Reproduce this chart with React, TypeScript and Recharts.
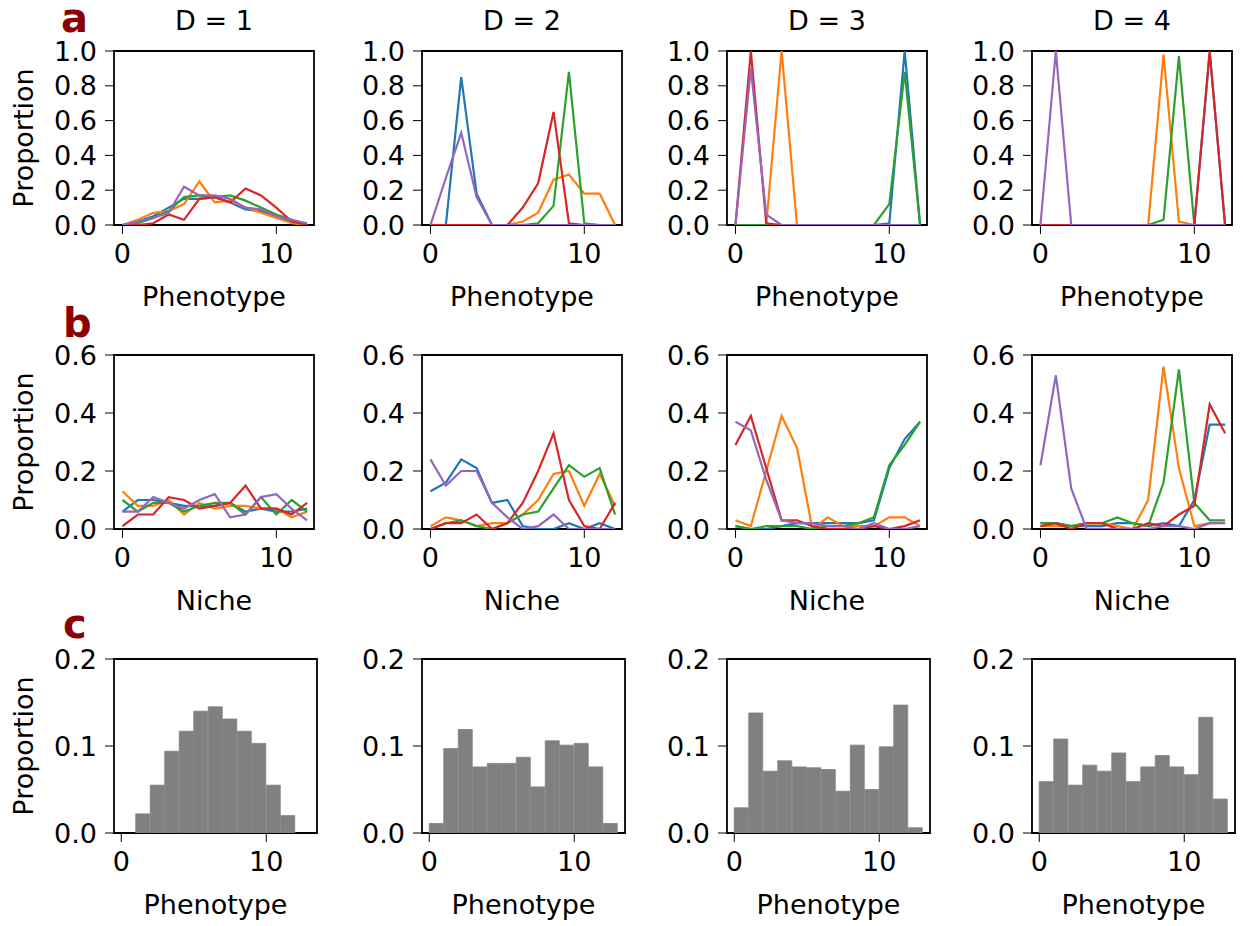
import React from 'react';
import { Bar, BarChart, Line, LineChart, ReferenceArea, XAxis, YAxis } from 'recharts';

// phenotype / niche index on the x axis
const phenotypes = [0, 1, 2, 3, 4, 5, 6, 7, 8, 9, 10, 11, 12];
const niches = [0, 1, 2, 3, 4, 5, 6, 7, 8, 9, 10, 11, 12];
// left edge of each histogram bin (width 1)
const binStarts = [0, 1, 2, 3, 4, 5, 6, 7, 8, 9, 10, 11, 12];

const titles = ['D = 1', 'D = 2', 'D = 3', 'D = 4'];

// each panel: five runs, in order blue, orange, green, red, purple
const phenotypeD1 = [
    [0, 0.02, 0.05, 0.10, 0.15, 0.15, 0.16, 0.13, 0.09, 0.08, 0.05, 0.02, 0],
    [0, 0.03, 0.07, 0.08, 0.12, 0.25, 0.13, 0.14, 0.10, 0.07, 0.04, 0.01, 0],
    [0, 0.01, 0.04, 0.08, 0.16, 0.17, 0.16, 0.17, 0.14, 0.10, 0.06, 0.03, 0],
    [0, 0, 0.01, 0.06, 0.03, 0.15, 0.16, 0.13, 0.21, 0.17, 0.10, 0.02, 0],
    [0, 0.02, 0.04, 0.07, 0.22, 0.17, 0.17, 0.15, 0.10, 0.09, 0.05, 0.03, 0.01],
];
const phenotypeD2 = [
    [0, 0, 0.85, 0.18, 0, 0, 0, 0, 0, 0, 0, 0, 0],
    [0, 0, 0, 0, 0, 0, 0.02, 0.07, 0.26, 0.29, 0.18, 0.18, 0],
    [0, 0, 0, 0, 0, 0, 0, 0.01, 0.11, 0.88, 0.01, 0, 0],
    [0, 0, 0, 0, 0, 0, 0.10, 0.24, 0.65, 0.01, 0, 0, 0],
    [0, 0.27, 0.53, 0.16, 0, 0, 0, 0, 0, 0, 0, 0, 0],
];
const phenotypeD3 = [
    [0, 0, 0, 0, 0, 0, 0, 0, 0, 0, 0.01, 1.0, 0],
    [0, 0, 0, 1.0, 0, 0, 0, 0, 0, 0, 0, 0, 0],
    [0, 0, 0, 0, 0, 0, 0, 0, 0, 0, 0.12, 0.88, 0],
    [0, 1.0, 0.01, 0, 0, 0, 0, 0, 0, 0, 0, 0, 0],
    [0, 0.9, 0.06, 0, 0, 0, 0, 0, 0, 0, 0, 0, 0],
];
const phenotypeD4 = [
    [0, 0, 0, 0, 0, 0, 0, 0, 0, 0, 0, 0.99, 0],
    [0, 0, 0, 0, 0, 0, 0, 0, 0.98, 0.02, 0, 0, 0],
    [0, 0, 0, 0, 0, 0, 0, 0, 0.03, 0.97, 0, 0, 0],
    [0, 0, 0, 0, 0, 0, 0, 0, 0, 0, 0, 1.0, 0],
    [0, 1.0, 0, 0, 0, 0, 0, 0, 0, 0, 0, 0, 0],
];

const nicheD1 = [
    [0.06, 0.10, 0.10, 0.09, 0.08, 0.08, 0.08, 0.09, 0.06, 0.07, 0.06, 0.06, 0.07],
    [0.13, 0.08, 0.08, 0.10, 0.05, 0.09, 0.07, 0.08, 0.08, 0.07, 0.07, 0.04, 0.06],
    [0.10, 0.06, 0.09, 0.09, 0.06, 0.08, 0.09, 0.09, 0.05, 0.11, 0.05, 0.10, 0.06],
    [0.01, 0.05, 0.05, 0.11, 0.10, 0.07, 0.08, 0.09, 0.15, 0.07, 0.07, 0.05, 0.09],
    [0.06, 0.06, 0.11, 0.09, 0.07, 0.10, 0.12, 0.04, 0.05, 0.11, 0.12, 0.07, 0.03],
];
const nicheD2 = [
    [0.13, 0.16, 0.24, 0.21, 0.09, 0.10, 0.01, 0, 0, 0.02, 0, 0.02, 0],
    [0.01, 0.04, 0.03, 0.01, 0.02, 0.02, 0.05, 0.10, 0.19, 0.20, 0.08, 0.19, 0.08],
    [0, 0.02, 0.03, 0.01, 0, 0.02, 0.05, 0.06, 0.14, 0.22, 0.18, 0.21, 0.05],
    [0, 0.02, 0.02, 0.05, 0, 0.02, 0.09, 0.20, 0.33, 0.10, 0.01, 0, 0.09],
    [0.24, 0.15, 0.20, 0.20, 0.09, 0.04, 0, 0.01, 0.05, 0, 0, 0, 0],
];
const nicheD3 = [
    [0.01, 0, 0, 0.01, 0.02, 0.02, 0.02, 0.02, 0.02, 0.03, 0.21, 0.31, 0.37],
    [0.03, 0.01, 0.20, 0.39, 0.28, 0, 0.04, 0.01, 0.01, 0.01, 0.04, 0.04, 0.01],
    [0.01, 0, 0.01, 0.01, 0.01, 0, 0.01, 0.01, 0.02, 0.04, 0.22, 0.29, 0.37],
    [0.29, 0.39, 0.21, 0.03, 0.03, 0.01, 0, 0, 0, 0.01, 0, 0.01, 0.03],
    [0.37, 0.34, 0.17, 0.03, 0.02, 0.02, 0.01, 0.01, 0, 0.02, 0, 0, 0.01],
];
const nicheD4 = [
    [0.02, 0.02, 0.01, 0.01, 0.01, 0.02, 0.02, 0.01, 0.02, 0.01, 0.10, 0.36, 0.36],
    [0.01, 0.01, 0.01, 0.02, 0.02, 0.01, 0, 0.10, 0.56, 0.21, 0.01, 0.02, 0.02],
    [0.02, 0.02, 0.01, 0.02, 0.02, 0.04, 0.02, 0.01, 0.16, 0.55, 0.09, 0.03, 0.03],
    [0.01, 0.02, 0, 0.02, 0.02, 0, 0, 0.02, 0.01, 0.05, 0.08, 0.43, 0.33],
    [0.22, 0.53, 0.14, 0, 0, 0, 0, 0, 0.01, 0.01, 0, 0.02, 0.02],
];

// pooled phenotype distribution per D
const histD1 = [0, 0.022, 0.055, 0.094, 0.117, 0.140, 0.145, 0.131, 0.117, 0.103, 0.055, 0.020, 0];
const histD2 = [0.011, 0.097, 0.119, 0.076, 0.080, 0.080, 0.087, 0.053, 0.106, 0.101, 0.103, 0.076, 0.011];
const histD3 = [0.029, 0.138, 0.071, 0.083, 0.076, 0.075, 0.073, 0.048, 0.101, 0.050, 0.099, 0.147, 0.006];
const histD4 = [0.059, 0.108, 0.055, 0.078, 0.071, 0.092, 0.059, 0.076, 0.089, 0.076, 0.067, 0.133, 0.039];

const lineColors = ['#1f77b4', '#ff7f0e', '#2ca02c', '#d62728', '#9467bd'];

const FONT = 'DejaVu Sans';
const FS = 27;
const AXIS_W = 110;
const PLOT_H = 174;
const XAXIS_H = 81;
const PAD_TOP = 20;
const PAD_RIGHT = 8;
const PAD_BOTTOM = 14;

const colLeft = [114, 422, 727, 1032];
const rowTop = [51, 355, 659];

const tickStyle = { fill: '#000', fontSize: FS, fontFamily: FONT };

function yLabelProps(show: boolean) {
    if (!show) return undefined;
    return {
        value: 'Proportion',
        angle: -90,
        position: 'insideLeft' as const,
        offset: 19,
        fill: '#000',
        fontSize: FS,
        style: { textAnchor: 'middle' },
    };
}

function LinePanel({ xs, series, xLabel, yMax, yTicks, left, top, showYLabel }: {
    xs: number[]; series: number[][]; xLabel: string; yMax: number; yTicks: number[];
    left: number; top: number; showYLabel: boolean;
}) {
    const rows = xs.map((x, i) => {
        const row: Record<string, number> = { x };
        series.forEach((s, k) => { row[`s${k}`] = s[i]; });
        return row;
    });
    const xDomain: [number, number] = [-0.55, 12.45];
    return (
        <div style={{ position: 'absolute', left: left - AXIS_W, top: top - PAD_TOP }}>
            <LineChart
                width={AXIS_W + 200 + PAD_RIGHT}
                height={PAD_TOP + PLOT_H + XAXIS_H + PAD_BOTTOM}
                data={rows}
                margin={{ top: PAD_TOP, right: PAD_RIGHT, bottom: PAD_BOTTOM, left: 0 }}
            >
                <XAxis
                    type="number"
                    dataKey="x"
                    domain={xDomain}
                    allowDataOverflow
                    ticks={[0, 10]}
                    interval={0}
                    axisLine={false}
                    tickSize={9}
                    tickMargin={10}
                    stroke="#000"
                    tick={tickStyle}
                    height={XAXIS_H}
                    label={{ value: xLabel, position: 'insideBottom', offset: 0, fill: '#000', fontSize: FS }}
                />
                <YAxis
                    type="number"
                    domain={[0, yMax]}
                    allowDataOverflow
                    ticks={yTicks}
                    interval={0}
                    tickFormatter={(v: number) => v.toFixed(1)}
                    axisLine={false}
                    tickSize={9}
                    tickMargin={8}
                    stroke="#000"
                    tick={tickStyle}
                    width={AXIS_W}
                    label={yLabelProps(showYLabel)}
                />
                {series.map((_, k) => (
                    <Line
                        key={k}
                        type="linear"
                        dataKey={`s${k}`}
                        stroke={lineColors[k]}
                        strokeWidth={2.2}
                        dot={false}
                        activeDot={false}
                        isAnimationActive={false}
                    />
                ))}
                <ReferenceArea
                    x1={xDomain[0]}
                    x2={xDomain[1]}
                    y1={0}
                    y2={yMax}
                    fill="none"
                    stroke="#000"
                    strokeWidth={1.8}
                    ifOverflow="visible"
                />
            </LineChart>
        </div>
    );
}

function HistPanel({ values, left, top, showYLabel }: {
    values: number[]; left: number; top: number; showYLabel: boolean;
}) {
    const rows = binStarts.map((b, i) => ({ x: b + 0.5, p: values[i] }));
    const xDomain: [number, number] = [-0.5, 13.5];
    return (
        <div style={{ position: 'absolute', left: left - AXIS_W, top: top - PAD_TOP }}>
            <BarChart
                width={AXIS_W + 203 + PAD_RIGHT}
                height={PAD_TOP + PLOT_H + XAXIS_H + PAD_BOTTOM}
                data={rows}
                barCategoryGap={0}
                barGap={0}
                margin={{ top: PAD_TOP, right: PAD_RIGHT, bottom: PAD_BOTTOM, left: 0 }}
            >
                <XAxis
                    type="number"
                    dataKey="x"
                    domain={xDomain}
                    allowDataOverflow
                    ticks={[0, 10]}
                    interval={0}
                    axisLine={false}
                    tickSize={9}
                    tickMargin={10}
                    stroke="#000"
                    tick={tickStyle}
                    height={XAXIS_H}
                    label={{ value: 'Phenotype', position: 'insideBottom', offset: 0, fill: '#000', fontSize: FS }}
                />
                <YAxis
                    type="number"
                    domain={[0, 0.2]}
                    allowDataOverflow
                    ticks={[0, 0.1, 0.2]}
                    interval={0}
                    tickFormatter={(v: number) => v.toFixed(1)}
                    axisLine={false}
                    tickSize={9}
                    tickMargin={8}
                    stroke="#000"
                    tick={tickStyle}
                    width={AXIS_W}
                    label={yLabelProps(showYLabel)}
                />
                <Bar dataKey="p" fill="#808080" stroke="#808080" strokeWidth={0.8} isAnimationActive={false} />
                <ReferenceArea
                    x1={xDomain[0]}
                    x2={xDomain[1]}
                    y1={0}
                    y2={0.2}
                    fill="none"
                    stroke="#000"
                    strokeWidth={1.8}
                    ifOverflow="visible"
                />
            </BarChart>
        </div>
    );
}

const phenotypePanels = [phenotypeD1, phenotypeD2, phenotypeD3, phenotypeD4];
const nichePanels = [nicheD1, nicheD2, nicheD3, nicheD4];
const histPanels = [histD1, histD2, histD3, histD4];

export default function App() {
    return (
        <div style={{ position: 'absolute', left: 0, top: 0, width: 1243, height: 926, background: '#fff', fontFamily: FONT }}>
            {phenotypePanels.map((series, c) => (
                <LinePanel
                    key={`a${c}`}
                    xs={phenotypes}
                    series={series}
                    xLabel="Phenotype"
                    yMax={1}
                    yTicks={[0, 0.2, 0.4, 0.6, 0.8, 1.0]}
                    left={colLeft[c]}
                    top={rowTop[0]}
                    showYLabel={c === 0}
                />
            ))}
            {nichePanels.map((series, c) => (
                <LinePanel
                    key={`b${c}`}
                    xs={niches}
                    series={series}
                    xLabel="Niche"
                    yMax={0.6}
                    yTicks={[0, 0.2, 0.4, 0.6]}
                    left={colLeft[c]}
                    top={rowTop[1]}
                    showYLabel={c === 0}
                />
            ))}
            {histPanels.map((values, c) => (
                <HistPanel key={`c${c}`} values={values} left={colLeft[c]} top={rowTop[2]} showYLabel={c === 0} />
            ))}
            <svg width={1243} height={926} style={{ position: 'absolute', left: 0, top: 0, pointerEvents: 'none' }}>
                {titles.map((t, c) => (
                    <text key={t} x={colLeft[c] + 100} y={30} textAnchor="middle" fontSize={FS} fontFamily={FONT} fill="#000">
                        {t}
                    </text>
                ))}
                <text x={61} y={32} fontSize={40} fontWeight="bold" fontFamily={FONT} fill="#8b0000">a</text>
                <text x={63} y={337} fontSize={40} fontWeight="bold" fontFamily={FONT} fill="#8b0000">b</text>
                <text x={63} y={638} fontSize={40} fontWeight="bold" fontFamily={FONT} fill="#8b0000">c</text>
            </svg>
        </div>
    );
}
